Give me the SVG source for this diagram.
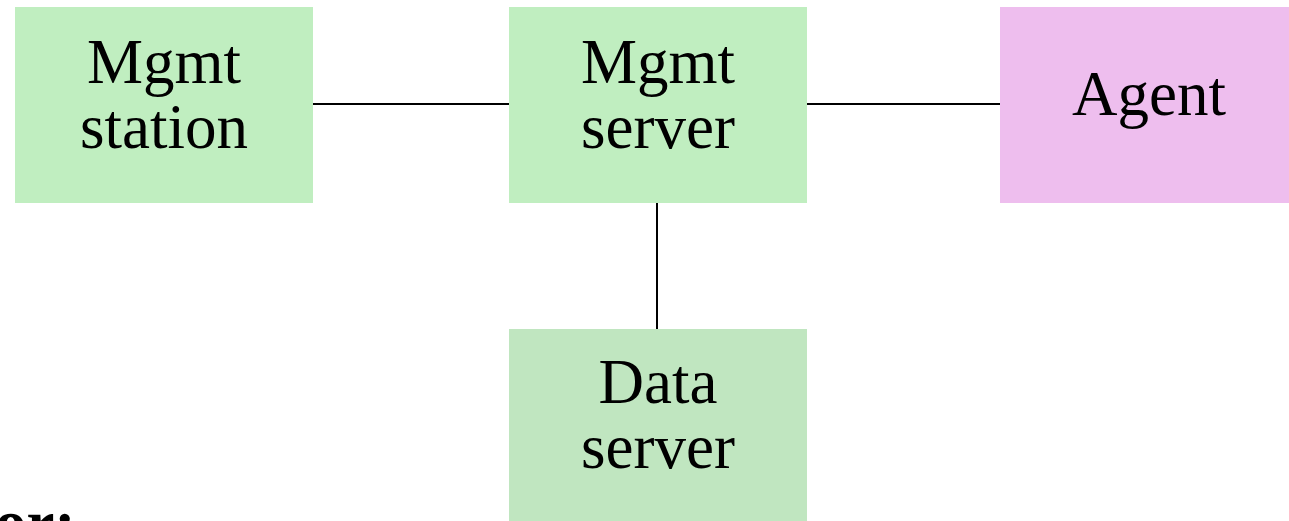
<svg xmlns="http://www.w3.org/2000/svg" width="1289" height="521" viewBox="0 0 1289 521">
<style>
.lbl{font-family:"Liberation Serif","Times New Roman",serif;font-size:63px;fill:#000;text-anchor:middle}
.conn{stroke:#000;stroke-width:2;fill:none}
</style>
<rect width="1289" height="521" fill="#fff"/>
<g id="connectors">
<line class="conn" x1="313" y1="104" x2="509" y2="104"/>
<line class="conn" x1="807" y1="104" x2="1000" y2="104"/>
<line class="conn" x1="657" y1="203" x2="657" y2="329"/>
</g>
<g id="mgmt-station">
<rect x="15" y="7" width="298" height="196" fill="#C0EEC0"/>
<text class="lbl" x="164" y="83">Mgmt</text>
<text class="lbl" x="164" y="148">station</text>
</g>
<g id="mgmt-server">
<rect x="509" y="7" width="298" height="196" fill="#C0EEC0"/>
<text class="lbl" x="658" y="83">Mgmt</text>
<text class="lbl" x="658" y="148">server</text>
</g>
<g id="agent">
<rect x="1000" y="7" width="289" height="196" fill="#EEBEEE"/>
<text class="lbl" x="1149" y="115">Agent</text>
</g>
<g id="data-server">
<rect x="509" y="329" width="298" height="192" fill="#C0E6C0"/>
<text class="lbl" x="658" y="403">Data</text>
<text class="lbl" x="658" y="468">server</text>
</g>
<text x="-5" y="544" style="font-family:'Liberation Serif','Times New Roman',serif;font-size:63px;font-weight:bold;fill:#000">or:</text>
</svg>
